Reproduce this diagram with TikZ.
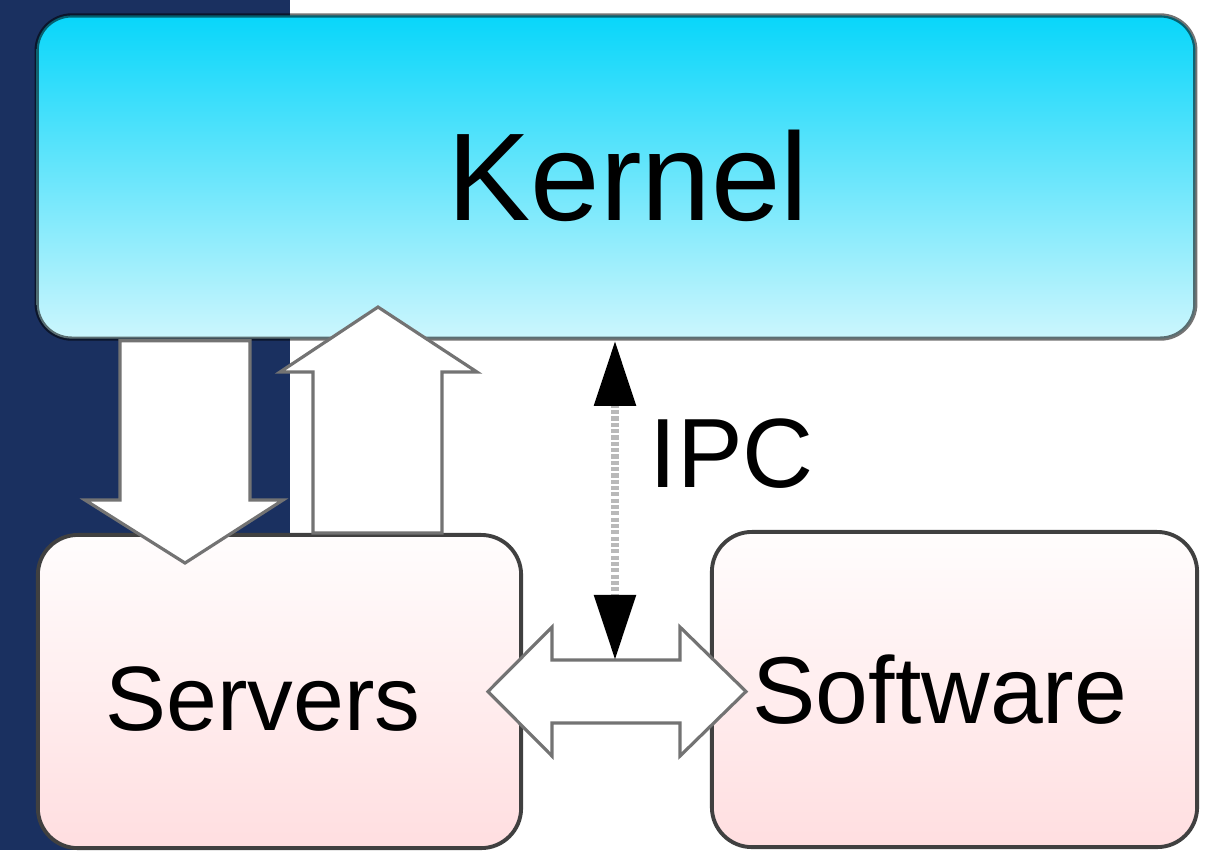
\documentclass[tikz,border=0pt]{standalone}
\usepackage{fontspec}
\setmainfont{Liberation Sans}
\usetikzlibrary{arrows.meta}
\definecolor{navy}{RGB}{26,48,96}
\definecolor{kerneltop}{RGB}{8,214,250}
\definecolor{kernelbot}{RGB}{204,246,253}
\definecolor{servtop}{RGB}{255,253,253}
\definecolor{servbot}{RGB}{255,222,224}
\tikzset{
  box/.style={rounded corners=0.4cm, line width=1.1pt, draw=black!75,
    top color=servtop, bottom color=servbot},
  blockarrow/.style={draw=black!55, fill=white, line width=0.9pt, line join=miter},
  ipcline/.style={gray!55, line width=2.4pt, dash pattern=on 1.2pt off 0.6pt,
    {Triangle[length=0.65cm,width=0.4cm,black]}-{Triangle[length=0.65cm,width=0.4cm,black]}}
}

\begin{document}
\begin{tikzpicture}[x=0.01cm,y=-0.01cm]
    \useasboundingbox (0,0) rectangle (1218,850);
    \fill[navy] (0,0) rectangle (290,850);

    \node[rounded corners=0.35cm, line width=1.2pt, draw=black, draw opacity=0.55,
      top color=kerneltop, bottom color=kernelbot,
      minimum width=11.58cm, minimum height=3.23cm] (kernel) at (616,177) {};
    \node[box, minimum width=4.83cm, minimum height=3.13cm] (servers) at (279.5,691.5) {};
    \node[box, minimum width=4.85cm, minimum height=3.15cm] (software) at (954.5,689.5) {};

    % kernel -> servers
    \draw[blockarrow] (120,0 |- kernel.south) -- (120,500) -- (85,500) -- (185,563)
      -- (283,500) -- (250,500) -- (250,0 |- kernel.south) -- cycle;
    % servers -> kernel
    \draw[blockarrow] (313,0 |- servers.north) -- (313,372) -- (280,372) -- (378,307)
      -- (477,372) -- (442,372) -- (442,0 |- servers.north) -- cycle;
    % servers <-> software
    \draw[blockarrow] (552,660) -- (680,660) -- (680,627) -- (746,691.5) -- (680,756)
      -- (680,723) -- (552,723) -- (552,756) -- (488,691.5) -- (552,627) -- cycle;

    \coordinate (ipcend) at (615,660);
    \draw[ipcline] (kernel.south -| ipcend) -- (ipcend);

    \node[anchor=base, font=\fontsize{35.5}{40}\selectfont] (kernellabel) at (628,220) {Kernel};
    \node[anchor=base, font=\fontsize{26}{31}\selectfont] (serverslabel) at (263,730) {Servers};
    \node[anchor=base, font=\fontsize{27}{32}\selectfont] (softwarelabel) at (940,723) {Software};
    \node[anchor=base west, inner sep=0pt, font=\fontsize{28}{33}\selectfont] (ipclabel) at (649,487) {IPC};
\end{tikzpicture}
\end{document}
